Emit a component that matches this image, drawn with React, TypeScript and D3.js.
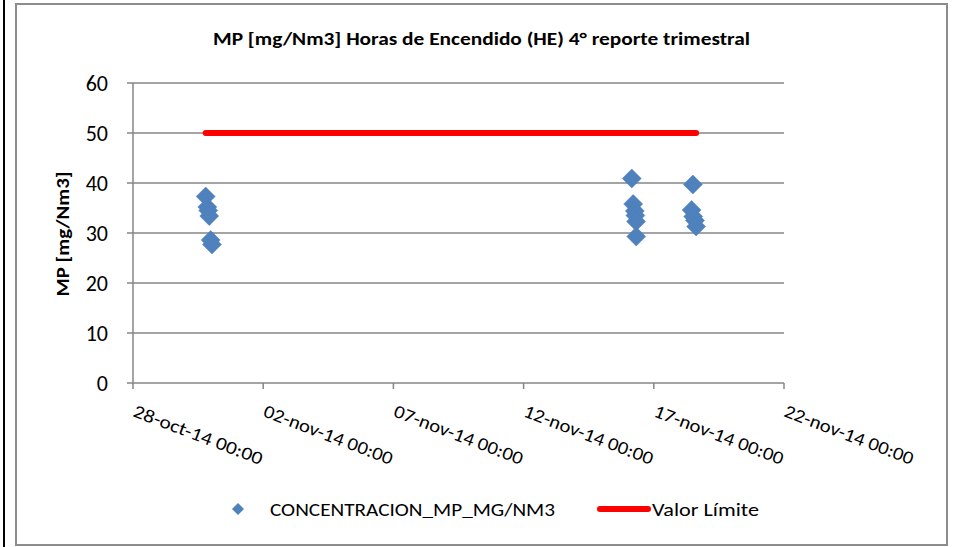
import React, { useEffect } from "react";
import * as d3 from "d3";

const title = "MP [mg/Nm3] Horas de Encendido (HE) 4° reporte trimestral";
const yAxisTitle = "MP [mg/Nm3]";
const seriesName = "CONCENTRACION_MP_MG/NM3";
const limitName = "Valor Límite";

const sampleTimes = [
  "2014-10-30 19:00", "2014-10-30 20:30", "2014-10-30 21:20", "2014-10-30 22:15", "2014-10-30 23:35", "2014-10-31 00:45",
  "2014-11-16 03:40", "2014-11-16 05:00", "2014-11-16 06:30", "2014-11-16 07:00", "2014-11-16 07:40", "2014-11-16 07:50",
  "2014-11-18 10:50", "2014-11-18 12:00", "2014-11-18 12:20", "2014-11-18 14:00", "2014-11-18 15:00",
];
const sampleValues = [
  37.3, 35.2, 34.5, 33.4, 28.6, 27.7,
  40.9, 35.8, 34.4, 33.5, 32.3, 29.3,
  34.6, 39.7, 33.3, 32.5, 31.3,
];
const limitValue = 50;

const xTickDates = ["2014-10-28 00:00", "2014-11-02 00:00", "2014-11-07 00:00", "2014-11-12 00:00", "2014-11-17 00:00", "2014-11-22 00:00"];
const xTickLabels = ["28-oct-14 00:00", "02-nov-14 00:00", "07-nov-14 00:00", "12-nov-14 00:00", "17-nov-14 00:00", "22-nov-14 00:00"];
const yTicks = [0, 10, 20, 30, 40, 50, 60];

const FONT = "Carlito, Lato, 'Open Sans', sans-serif";

export default function App() {
  useEffect(() => {
    document.body.style.margin = "0";
  }, []);
  const parse = d3.timeParse("%Y-%m-%d %H:%M");
  const tickDates = xTickDates.map((s) => parse(s) as Date);
  const x = d3.scaleTime().domain([tickDates[0], tickDates[tickDates.length - 1]]).range([133, 784]);
  const y = d3.scaleLinear().domain([0, 60]).range([383, 83]);
  const pts = sampleTimes.map((t, i) => ({ t: parse(t) as Date, v: sampleValues[i] }));
  const tExt = d3.extent(pts, (p) => p.t) as [Date, Date];
  const limitLine = d3.line<Date>().x((d) => x(d)).y(() => y(limitValue))(tExt) || "";
  const diamond = (r: number) => `M0,${-r}L${r},0L0,${r}L${-r},0Z`;
  const gridColor = "#868686";

  return (
    <svg width={959} height={547} style={{ display: "block", background: "#fff" }} fontFamily={FONT}>
      <rect x={0} y={0} width={959} height={547} fill="#fff" />
      <line x1={4} x2={4} y1={0} y2={547} stroke="#000" strokeWidth={2} />
      <rect x={16} y={4} width={931} height={541} fill="none" stroke="#8c8c8c" strokeWidth={2} />
      <text x={481.5} y={45} textAnchor="middle" fontSize={19} fontWeight="bold" fill="#000" textLength={537} lengthAdjust="spacingAndGlyphs">{title}</text>

      {yTicks.map((v) => (
        <g key={v}>
          {v > 0 && <line x1={133} x2={784} y1={y(v)} y2={y(v)} stroke={gridColor} strokeWidth={1.5} />}
          <line x1={127} x2={133} y1={y(v)} y2={y(v)} stroke={gridColor} strokeWidth={1.5} />
          <text x={108} y={y(v) + 8} textAnchor="end" fontSize={22} fill="#000">{v}</text>
        </g>
      ))}
      <line x1={133} x2={133} y1={83} y2={383} stroke={gridColor} strokeWidth={1.5} />
      <line x1={133} x2={784} y1={383} y2={383} stroke={gridColor} strokeWidth={1.5} />
      {tickDates.map((d, i) => (
        <g key={i}>
          <line x1={x(d)} x2={x(d)} y1={383} y2={389} stroke={gridColor} strokeWidth={1.5} />
          <text transform={`translate(${x(d) - 1},${416}) rotate(21)`} fontSize={18.5} fill="#000" textLength={137} lengthAdjust="spacingAndGlyphs">{xTickLabels[i]}</text>
        </g>
      ))}
      <text transform={`translate(69,${234}) rotate(-90)`} textAnchor="middle" fontSize={17} fontWeight="bold" fill="#000" textLength={125} lengthAdjust="spacingAndGlyphs">{yAxisTitle}</text>

      <path d={limitLine} stroke="#ff0000" strokeWidth={6} strokeLinecap="round" fill="none" />
      {pts.map((p, i) => (
        <path key={i} d={diamond(9.5)} transform={`translate(${x(p.t)},${y(p.v)})`} fill="#4f81bd" stroke="#4a7ebb" strokeWidth={0.5} />
      ))}

      <path d={diamond(6)} transform="translate(238,509)" fill="#4f81bd" />
      <text x={270} y={515.5} fontSize={18} fill="#000" textLength={285} lengthAdjust="spacingAndGlyphs">{seriesName}</text>
      <line x1={600} x2={648} y1={509} y2={509} stroke="#ff0000" strokeWidth={6} strokeLinecap="round" />
      <text x={652} y={515.5} fontSize={18} fill="#000" textLength={107} lengthAdjust="spacingAndGlyphs">{limitName}</text>
    </svg>
  );
}
